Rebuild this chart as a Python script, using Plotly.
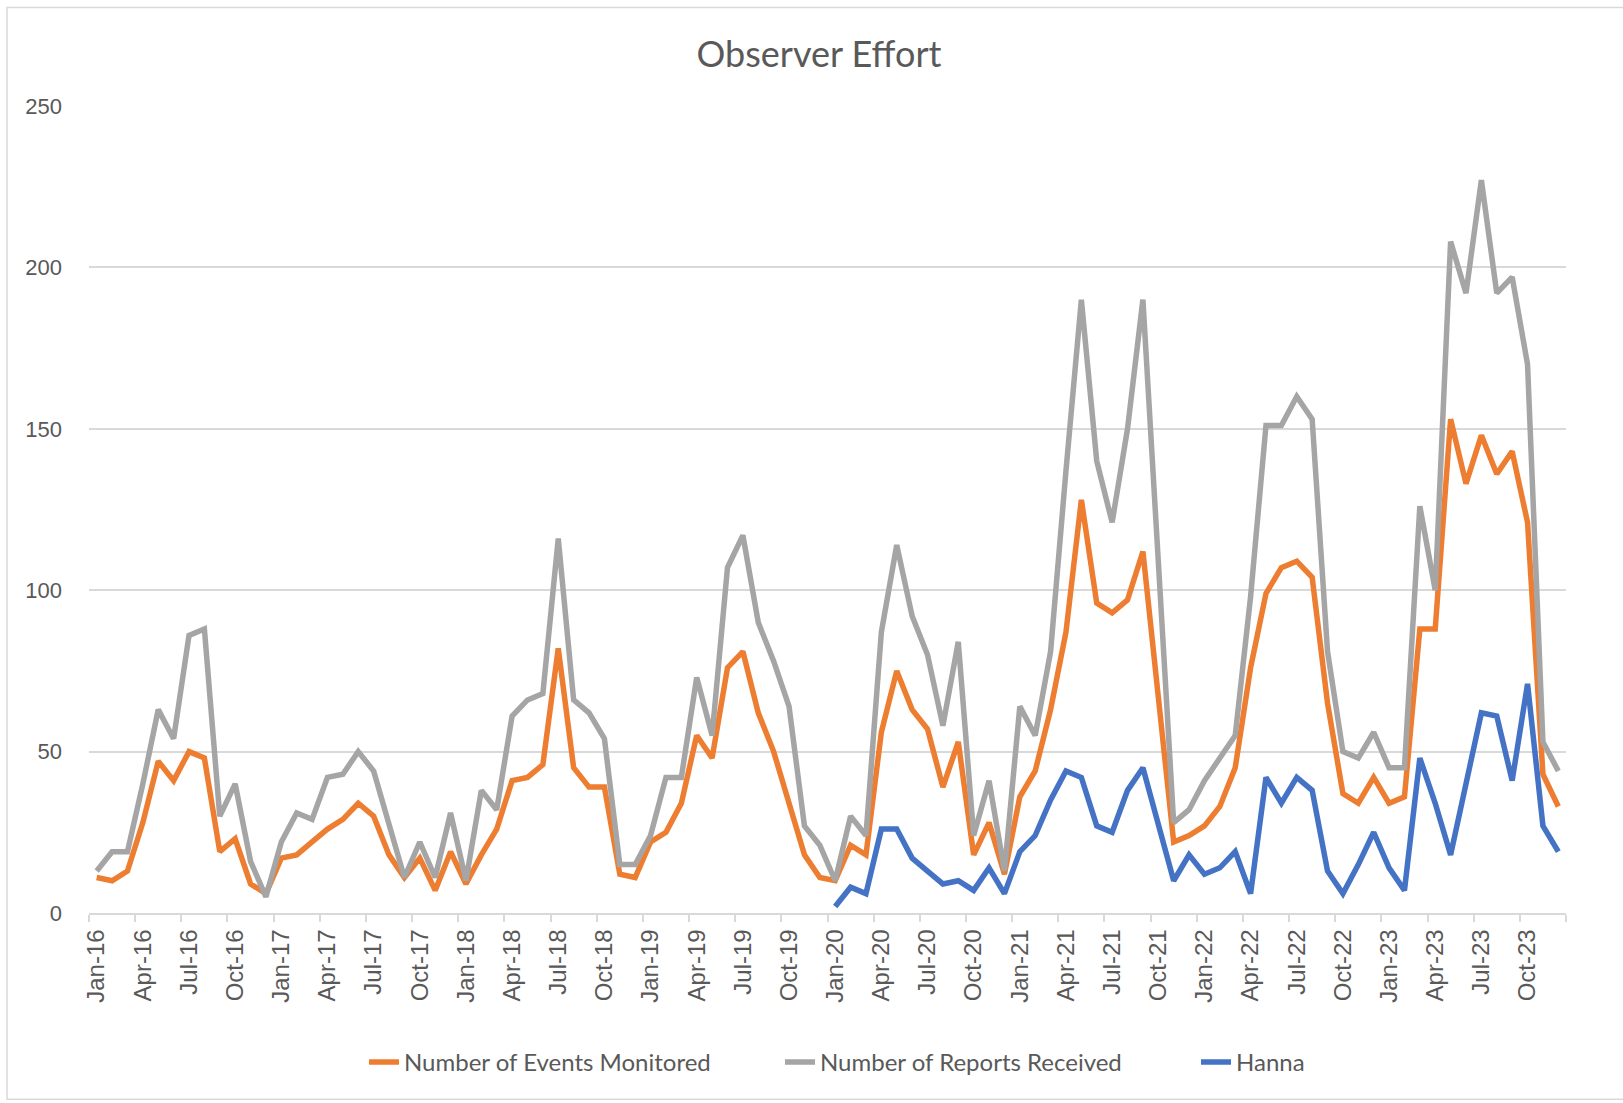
import plotly.graph_objects as go

months = [f"{m}-{y}" for y in range(16, 24) for m in
          ["Jan", "Feb", "Mar", "Apr", "May", "Jun", "Jul", "Aug", "Sep", "Oct", "Nov", "Dec"]]

events = [11, 10, 13, 28, 47, 41, 50, 48, 19, 23, 9, 6,
          17, 18, 22, 26, 29, 34, 30, 18, 11, 17, 7, 19,
          9, 18, 26, 41, 42, 46, 82, 45, 39, 39, 12, 11,
          22, 25, 34, 55, 48, 76, 81, 62, 50, 34, 18, 11,
          10, 21, 18, 56, 75, 63, 57, 39, 53, 18, 28, 12,
          36, 44, 63, 87, 128, 96, 93, 97, 112, 67, 22, 24,
          27, 33, 45, 76, 99, 107, 109, 104, 65, 37, 34, 42,
          34, 36, 88, 88, 153, 133, 148, 136, 143, 121, 43, 33]

reports = [13, 19, 19, 40, 63, 54, 86, 88, 30, 40, 16, 5,
           22, 31, 29, 42, 43, 50, 44, 28, 11, 22, 11, 31,
           10, 38, 32, 61, 66, 68, 116, 66, 62, 54, 15, 15,
           24, 42, 42, 73, 55, 107, 117, 90, 78, 64, 27, 21,
           10, 30, 24, 87, 114, 92, 80, 58, 84, 24, 41, 13,
           64, 55, 81, 137, 190, 140, 121, 150, 190, 109, 28, 32,
           41, 48, 55, 98, 151, 151, 160, 153, 81, 50, 48, 56,
           45, 45, 126, 100, 208, 192, 227, 192, 197, 170, 53, 44]

hanna = [None] * 48 + [2, 8, 6, 26, 26, 17, 13, 9, 10, 7, 14, 6,
                       19, 24, 35, 44, 42, 27, 25, 38, 45, 27, 10, 18,
                       12, 14, 19, 6, 42, 34, 42, 38, 13, 6, 15, 25,
                       14, 7, 48, 34, 18, 40, 62, 61, 41, 71, 27, 19]

x = list(range(len(months)))
tick_idx = x[::3]
tick_text = months[::3]

W, H = 1623, 1103
L, R, T, B = 89, 57, 105.6, 189.5
pw = W - L - R
ph = H - T - B

fig = go.Figure()
series = [("Number of Events Monitored", events, "#ED7D31"),
          ("Number of Reports Received", reports, "#A5A5A5"),
          ("Hanna", hanna, "#4472C4")]
for name, vals, col in series:
    fig.add_trace(go.Scatter(x=x, y=vals, name=name, mode="lines",
                             line=dict(color=col, width=5.5, shape="linear"),
                             connectgaps=False))

fig.add_shape(type="rect", xref="paper", yref="paper",
              x0=(7 - L) / pw, x1=(W + 5 - L) / pw,
              y0=(H - B - 1100) / ph, y1=(H - B - 7) / ph,
              line=dict(color="#D9D9D9", width=1.5), fillcolor="rgba(0,0,0,0)", layer="below")

fig.update_layout(
    width=W, height=H,
    margin=dict(l=L, r=R, t=T, b=B, autoexpand=False),
    paper_bgcolor="white", plot_bgcolor="white",
    title=dict(text="Observer Effort", x=819 / W, xanchor="center",
               y=1 - 54 / H, yanchor="middle", yref="container",
               font=dict(family="Lato", size=36, color="#595959")),
    font=dict(family="Liberation Sans, Arial", color="#595959", size=22),
    showlegend=True,
    legend=dict(orientation="h", x=(364 - L) / pw, xanchor="left",
                y=(H - B - 1063) / ph, yanchor="middle",
                font=dict(family="Lato", size=24, color="#595959"),
                entrywidth=371, entrywidthmode="pixels",
                tracegroupgap=0, traceorder="normal"),
    xaxis=dict(range=[-0.5, len(months) - 0.5], tickmode="array",
               tickvals=tick_idx, ticktext=tick_text, tickangle=-90,
               ticks="", showgrid=False, zeroline=False,
               showline=True, linecolor="#D9D9D9", linewidth=1.5,
               ticklabelstandoff=5,
               minor=dict(ticks="outside", tick0=-0.5, dtick=3, ticklen=7,
                          tickcolor="#D9D9D9", tickwidth=1.5, showgrid=False),
               tickfont=dict(family="Liberation Sans, Arial", size=24, color="#595959")),
    yaxis=dict(range=[0, 250], dtick=50, tick0=0, showgrid=True,
               gridcolor="#D9D9D9", gridwidth=1.5, zeroline=False,
               showline=False, ticks="", ticklabelstandoff=26,
               tickfont=dict(family="Liberation Sans, Arial", size=22, color="#595959")),
)

fig.write_html("out.html", config={"displayModeBar": False},
               post_script="document.body.style.margin='0';")
